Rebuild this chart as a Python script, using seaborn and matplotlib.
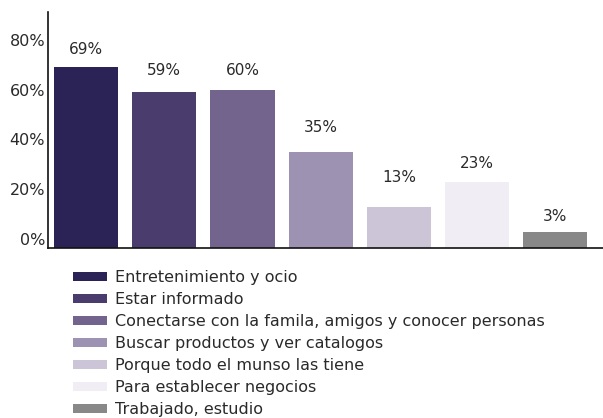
import matplotlib
matplotlib.use("Agg")
import matplotlib.pyplot as plt
from matplotlib.patches import Patch
import seaborn as sns
import pandas as pd

categories = [
    "Entretenimiento y ocio",
    "Estar informado",
    "Conectarse con la famila, amigos y conocer personas",
    "Buscar productos y ver catalogos",
    "Porque todo el munso las tiene",
    "Para establecer negocios",
    "Trabajado, estudio",
]
values = [69, 59, 60, 35, 13, 23, 3]
value_labels = ["69%", "59%", "60%", "35%", "13%", "23%", "3%"]
colors = ["#2B2356", "#4A3D6E", "#72648C", "#9E92B2", "#CCC5D8", "#F0EEF4", "#888888"]
yticks = [0, 20, 40, 60, 80]
ytick_labels = ["0%", "20%", "40%", "60%", "80%"]
label_pads = [7.5, 10.3, 8.3, 12.0, 15.3, 7.6, 5.4]

sns.set_theme(style="white")
plt.rcParams["font.family"] = ["DejaVu Sans"]
TXT = "#2a2a2a"

df = pd.DataFrame({"cat": categories, "val": values})

fig = plt.figure(figsize=(6.03, 4.18), dpi=100)
ax = fig.add_axes([48 / 603, 1 - 248 / 418, 1 - 48 / 603, (248 - 12) / 418])

base = -3.6
sns.barplot(data=df, x="cat", y="val", hue="cat", palette=colors,
            dodge=False, width=0.82, ax=ax, legend=False, saturation=1,
            linewidth=0)
# bars sit on the axis line, slightly below the 0% level
for p in ax.patches:
    p.set_y(base)
    p.set_height(p.get_height() - base)

ax.set_ylim(base, 91.2)
ax.set_xlim(-0.486, 6.61)
ax.set_xticks([])
ax.set_xlabel("")
ax.set_ylabel("")
ax.set_yticks(yticks)
ax.set_yticklabels(ytick_labels, fontsize=11.5, color=TXT)
ax.tick_params(axis="y", length=0, pad=2)

for s in ["top", "right"]:
    ax.spines[s].set_visible(False)
for s in ["left", "bottom"]:
    ax.spines[s].set_color("#111111")
    ax.spines[s].set_linewidth(1.2)

for cont, lab, pad in zip(ax.containers, value_labels, label_pads):
    ax.bar_label(cont, labels=[lab], padding=pad, fontsize=11, color=TXT)

handles = [Patch(facecolor=c, edgecolor="none") for c in colors]
ax.legend(handles, categories, loc="upper left",
          bbox_to_anchor=(73 / 603, 1 - 270 / 418), bbox_transform=fig.transFigure,
          frameon=False, fontsize=11.5, handlelength=2.1, handleheight=0.5,
          handletextpad=0.5, labelspacing=0.44, borderpad=0, borderaxespad=0,
          labelcolor=TXT)

fig.savefig("out.png", dpi=100)
